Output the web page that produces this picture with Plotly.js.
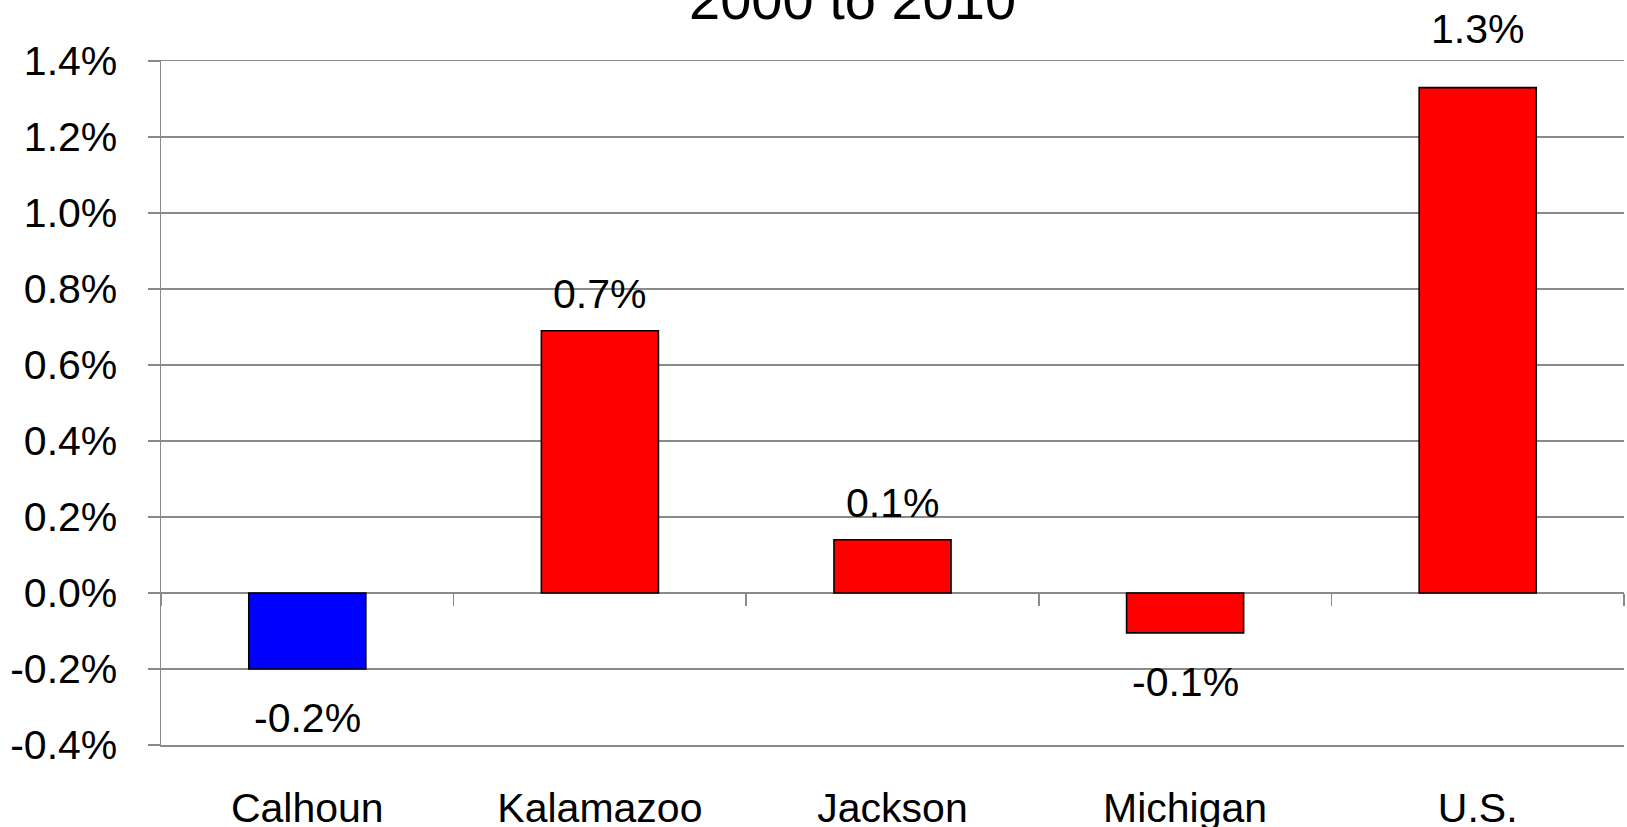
<!DOCTYPE html>
<html>
<head>
<meta charset="utf-8">
<script src="https://cdn.plot.ly/plotly-3.0.1.min.js"></script>
<style>html,body{margin:0;padding:0;background:#fff;}#chart{width:1627px;height:827px;}</style>
</head>
<body>
<div id="chart"></div>
<script>
const categories = ["Calhoun", "Kalamazoo", "Jackson", "Michigan", "U.S."];
const values = [-0.20, 0.69, 0.14, -0.105, 1.33];
const barColors = ["#0000FF", "#FF0000", "#FF0000", "#FF0000", "#FF0000"];
const yTickValues = [-0.4, -0.2, 0.0, 0.2, 0.4, 0.6, 0.8, 1.0, 1.2, 1.4];
const yTickLabels = ["-0.4%", "-0.2%", "0.0%", "0.2%", "0.4%", "0.6%", "0.8%", "1.0%", "1.2%", "1.4%"];
const titleText = "2000 to 2010";

const FONT = '"Liberation Sans", Arial, sans-serif';
const GRID = '#8a8a8a';
const yMin = -0.4, yMax = 1.4;

const trace = {
  type: 'bar',
  x: categories,
  y: values,
  marker: {color: barColors, line: {color: '#000000', width: 1.6}},
  hoverinfo: 'none',
  showlegend: false
};

const annotations = categories.map((c, i) => ({
  x: c, y: values[i], xref: 'x', yref: 'y',
  text: values[i].toFixed(1) + '%',
  showarrow: false,
  yanchor: values[i] >= 0 ? 'bottom' : 'top',
  yshift: values[i] >= 0 ? (c === 'U.S.' ? 34 : 12) : -24,
  font: {family: FONT, size: 41, color: '#000'}
}));

const layout = {
  width: 1627, height: 827,
  margin: {l: 161, r: 3, t: 61, b: 82, pad: 0},
  paper_bgcolor: '#fff', plot_bgcolor: '#fff',
  bargap: 0.6,
  font: {family: FONT, color: '#000'},
  title: {
    text: titleText,
    font: {family: FONT, size: 56, color: '#000'},
    x: 0.524, xanchor: 'center', xref: 'container',
    y: 0.977, yanchor: 'bottom', yref: 'container'
  },
  xaxis: {
    type: 'category', range: [-0.5, 4.5],
    showline: true, mirror: true, linecolor: GRID, linewidth: 1.5,
    showgrid: false, zeroline: false, ticks: '',
    tickfont: {family: FONT, size: 41, color: '#000'},
    ticklabelstandoff: 26
  },
  xaxis2: {
    overlaying: 'x', anchor: 'free', position: (0 - yMin) / (yMax - yMin),
    range: [-0.5, 4.5], type: 'linear',
    tickmode: 'array', tickvals: [-0.5, 0.5, 1.5, 2.5, 3.5, 4.5],
    ticks: 'outside', ticklen: 12, tickwidth: 1.5, tickcolor: GRID,
    showticklabels: false, showgrid: false, showline: false, zeroline: false
  },
  yaxis: {
    range: [yMin, yMax], tickmode: 'array', tickvals: yTickValues, ticktext: yTickLabels,
    showgrid: true, gridcolor: GRID, gridwidth: 1.5,
    showline: true, linecolor: GRID, linewidth: 1.5,
    ticks: 'outside', ticklen: 12, tickwidth: 1.5, tickcolor: GRID,
    zeroline: true, zerolinecolor: GRID, zerolinewidth: 1.5,
    tickfont: {family: FONT, size: 41, color: '#000'},
    ticklabelstandoff: 22
  },
  annotations: annotations
};

Plotly.newPlot('chart', [trace, {type: 'scatter', x: [], y: [], xaxis: 'x2', yaxis: 'y', showlegend: false, hoverinfo: 'none'}], layout, {staticPlot: true, displayModeBar: false});
</script>
</body>
</html>
